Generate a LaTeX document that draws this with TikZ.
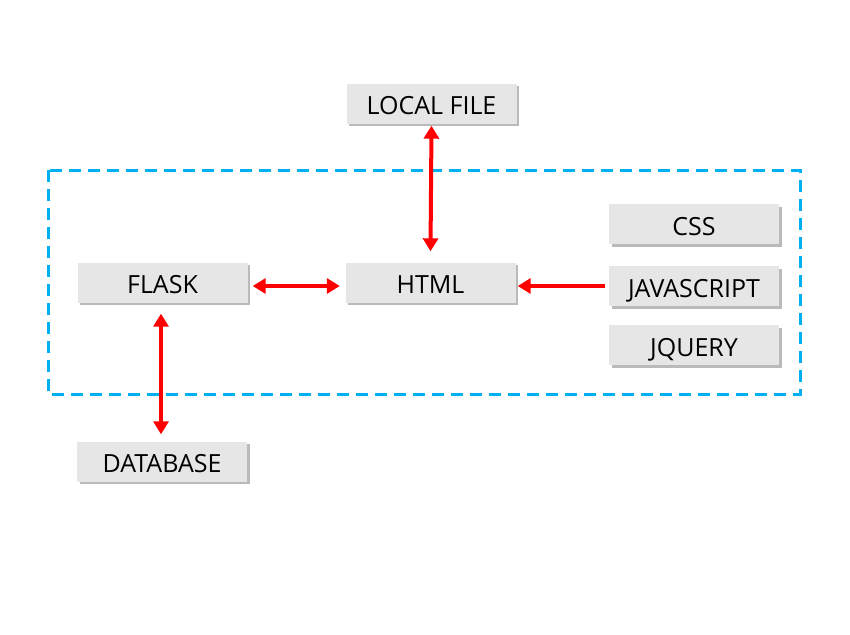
\documentclass[tikz,border=0pt]{standalone}
\usepackage{fontspec}
\setmainfont{Open Sans}
\usetikzlibrary{arrows.meta,shadows}
\definecolor{boxfill}{HTML}{E6E6E6}
\definecolor{dashblue}{HTML}{00B0F0}
\definecolor{arrred}{HTML}{FF0000}
\tikzset{
  compbox/.style={fill=boxfill, draw=none, minimum width=170pt, minimum height=40pt, inner sep=0pt,
    font=\fontsize{25}{29}\selectfont, text=black, text height=22pt, text depth=0pt,
    drop shadow={shadow xshift=2.5pt, shadow yshift=-2.5pt, fill=black!45, opacity=0.6}},
  link/.style={draw=arrred, line width=4pt, arrows={Triangle[length=13pt,width=15pt]-Triangle[length=13pt,width=15pt]}},
  onelink/.style={draw=arrred, line width=4pt, arrows={-Triangle[length=13pt,width=15pt]}},
  groupframe/.style={draw=dashblue, line width=3pt, dash pattern=on 12pt off 7pt}
}
\begin{document}
\begin{tikzpicture}[x=1pt,y=-1pt]
\fill[white] (0,0) rectangle (850,634);
\useasboundingbox (0,0) rectangle (850,634);
\draw[groupframe] (48,170) rectangle (800,394);
\node[compbox] (local) at (431.5,103.5) {LOCAL FILE};
\node[compbox] (flask) at (162.5,282.5) {FLASK};
\node[compbox] (html) at (430.5,282.5) {HTML};
\node[compbox] (css) at (694,224) {CSS};
\node[compbox] (js) at (694,286) {JAVASCRIPT};
\node[compbox] (jq) at (694,345) {JQUERY};
\node[compbox] (db) at (162,461.5) {DATABASE};
\draw[link] ([yshift=-2pt]local.south) -- ([yshift=11pt]html.north);
\draw[link] ([xshift=5pt,yshift=-3.5pt]flask.east) -- ([xshift=-5.5pt,yshift=-3.5pt]html.west);
\draw[onelink] ([xshift=-4pt]js.west) -- ([xshift=2pt,yshift=-3.5pt]html.east);
\draw[link] ([xshift=-1.5pt,yshift=-11pt]flask.south) -- ([xshift=-1pt,yshift=7pt]db.north);
\end{tikzpicture}
\end{document}
